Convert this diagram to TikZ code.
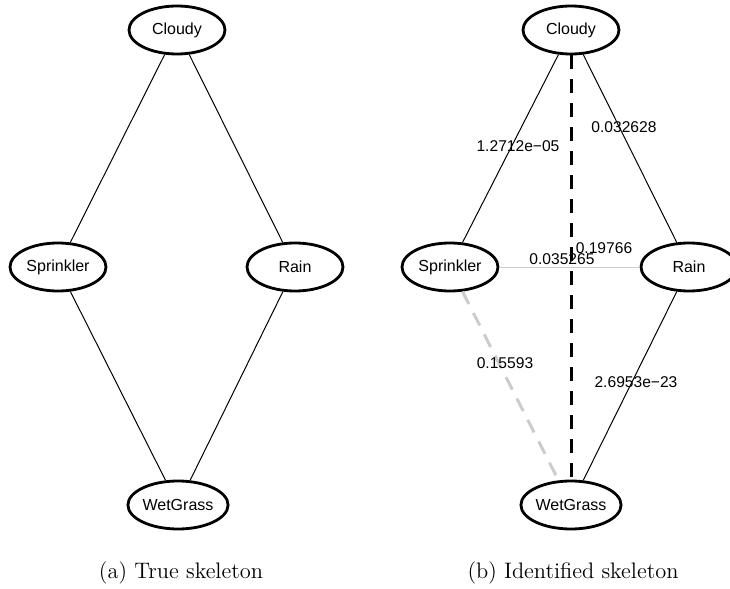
\documentclass[tikz,border=0pt]{standalone}
\usepackage{fontspec}
\newfontfamily\arial{Liberation Sans}
\usetikzlibrary{shapes.geometric}
\tikzset{var/.style={ellipse,draw,line width=1.4pt,minimum width=48pt,minimum height=24pt,inner sep=0pt,font=\arial\fontsize{8}{9}\selectfont},
  wt/.style={font=\arial\fontsize{7.8}{9}\selectfont,inner sep=0pt},
  subcap/.style={font=\fontsize{11.2}{13}\selectfont,inner sep=0pt},
  link/.style={line width=0.5pt},
  dashlink/.style={line width=1.5pt,dash pattern=on 7pt off 5pt}}

\begin{document}
\begin{tikzpicture}[x=0.5pt,y=-0.5pt]
\clip (0,0) rectangle (730,589);
\node (c1) [var] at (177,30) {Cloudy};
\node (s1) [var] at (58,267) {Sprinkler};
\node (r1) [var] at (295,267) {Rain};
\node (w1) [var] at (178,505) {WetGrass};
\draw[link] (c1)--(s1);
\draw[link] (c1)--(r1);
\draw[link] (s1)--(w1);
\draw[link] (r1)--(w1);
\node (c2) [var] at (571,30) {Cloudy};
\node (s2) [var] at (450,267) {Sprinkler};
\node (r2) [var] at (689,267) {Rain};
\node (w2) [var] at (571,505) {WetGrass};
\draw[link] (c2)--(s2);
\draw[link] (c2)--(r2);
\draw[link] (r2)--(w2);
\draw[link,black!20] (s2)--(r2);
\draw[dashlink,black!20] (s2)--(w2);
\draw[dashlink] (c2)--(w2);
\node (l1) [wt] at (518,146) {1.2712e−05};
\node (l2) [wt] at (624,127) {0.032628};
\node (l3) [wt] at (604,248) {0.19766};
\node (l4) [wt] at (562,259) {0.035265};
\node (l5) [wt] at (505,363) {0.15593};
\node (l6) [wt] at (636,382) {2.6953e−23};
\node (capa) [subcap] at (181,573) {(a)\ True skeleton};
\node (capb) [subcap] at (573,573) {(b)\ Identified skeleton};
\end{tikzpicture}
\end{document}
